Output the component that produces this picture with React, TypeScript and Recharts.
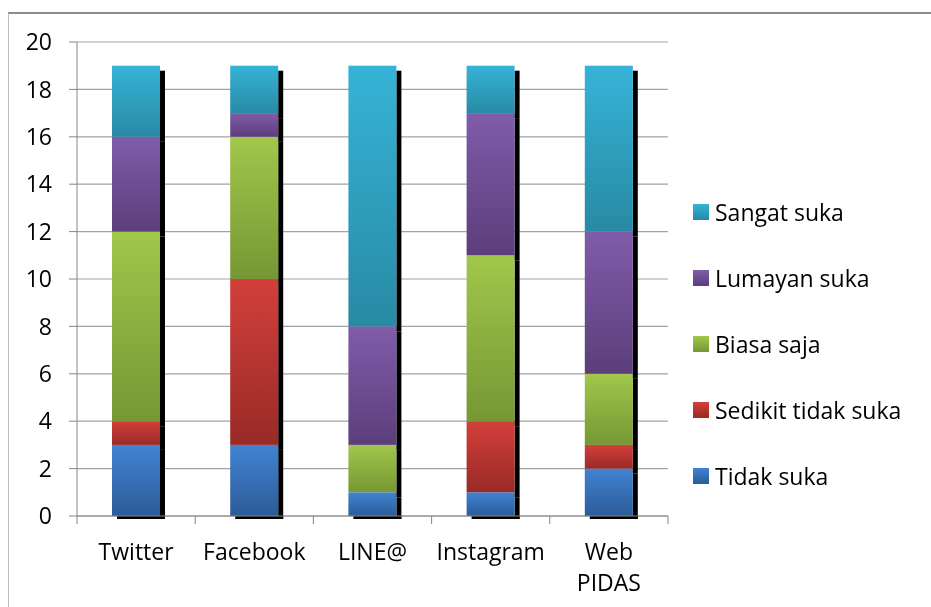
import React from 'react';
import { BarChart, Bar, XAxis, YAxis, CartesianGrid, Legend } from 'recharts';

const categories = ['Twitter', 'Facebook', 'LINE@', 'Instagram', 'Web PIDAS'];
const tidakSuka = [3, 3, 1, 1, 2];
const sedikitTidakSuka = [1, 7, 0, 3, 1];
const biasaSaja = [8, 6, 2, 7, 3];
const lumayanSuka = [4, 1, 5, 6, 6];
const sangatSuka = [3, 2, 11, 2, 7];
const yTicks = [0, 2, 4, 6, 8, 10, 12, 14, 16, 18, 20];

const seriesNames = ['Tidak suka', 'Sedikit tidak suka', 'Biasa saja', 'Lumayan suka', 'Sangat suka'];
const seriesValues = [tidakSuka, sedikitTidakSuka, biasaSaja, lumayanSuka, sangatSuka];
const seriesKeys = ['s0', 's1', 's2', 's3', 's4'];
// top / bottom colours of each gradient
const seriesColors = [
  ['#4183d3', '#2c5b98'],
  ['#d33f3b', '#992a27'],
  ['#a1c74b', '#769734'],
  ['#805caa', '#5c3e7b'],
  ['#36b3d7', '#288aa4'],
];

const data = categories.map((name, i) => {
  const row: any = { name };
  seriesKeys.forEach((k, s) => (row[k] = seriesValues[s][i]));
  return row;
});

const CHART_W = 923;
const CHART_H = 591;
const Y_W = 69;
const MARGIN = { top: 34, right: 263, bottom: 23, left: 0 };
const BAND = (CHART_W - Y_W - MARGIN.right - MARGIN.left) / categories.length;
const FONT = '"Open Sans", Lato, sans-serif';
const FS = 23;

function Segment(props: any) {
  const { x, y, width, height, fill, isBottom } = props;
  if (!height || height <= 0) return null;
  return (
    <g>
      <rect x={x + width} y={y + 5} width={5} height={isBottom ? height - 2 : height} fill="#000" />
      {isBottom && <rect x={x + 5} y={y + height} width={width} height={3} fill="#000" />}
      <rect x={x} y={y} width={width} height={height} fill={fill} />
    </g>
  );
}

function XTick(props: any) {
  const { x, y, payload, index } = props;
  const lines = String(payload.value).split(' ');
  return (
    <g>
      <line x1={x - BAND / 2} x2={x - BAND / 2} y1={y} y2={y + 8} stroke="#868686" />
      {index === categories.length - 1 && (
        <line x1={x + BAND / 2} x2={x + BAND / 2} y1={y} y2={y + 8} stroke="#868686" />
      )}
      {lines.map((l, i) => (
        <text key={i} x={x} y={y + 35 + i * 31} textAnchor="middle" dominantBaseline="central"
          fontSize={FS} fontFamily={FONT} fill="#000">
          {l}
        </text>
      ))}
    </g>
  );
}

function LegendContent() {
  const items = seriesNames.map((n, i) => ({ n, i })).reverse();
  return (
    <div style={{ fontFamily: FONT, fontSize: FS, color: '#000' }}>
      {items.map(({ n, i }) => (
        <div key={n} style={{ height: 66, display: 'flex', alignItems: 'center' }}>
          <span style={{
            width: 16, height: 16, display: 'inline-block', marginRight: 6, flex: 'none',
            background: `linear-gradient(${seriesColors[i][0]}, ${seriesColors[i][1]})`,
          }} />
          <span style={{ whiteSpace: 'nowrap' }}>{n}</span>
        </div>
      ))}
    </div>
  );
}

export default function App() {
  return (
    <div style={{ position: 'relative', width: CHART_W, height: CHART_H }}>
      <div style={{
        position: 'fixed', left: 8, top: 12, right: 0, bottom: 0,
        borderTop: '2px solid #8c8c8c', borderLeft: '1px solid #bdbdbd',
      }} />
      <BarChart width={CHART_W} height={CHART_H} data={data} margin={MARGIN} barSize={48}
        style={{ position: 'absolute', left: 0, top: 0 }}>
        <defs>
          {seriesColors.map((c, i) => (
            <linearGradient key={i} id={`grad${i}`} x1="0" y1="0" x2="0" y2="1">
              <stop offset="0%" stopColor={c[0]} />
              <stop offset="100%" stopColor={c[1]} />
            </linearGradient>
          ))}
        </defs>
        <CartesianGrid vertical={false} stroke="#a3a3a3" strokeWidth={1.2} />
        <XAxis dataKey="name" tickLine={false} tickSize={0} tickMargin={0} height={60}
          axisLine={{ stroke: '#868686' }} tick={<XTick />} interval={0} />
        <YAxis domain={[0, 20]} ticks={yTicks} width={Y_W} tickSize={8} tickMargin={17}
          axisLine={{ stroke: '#868686' }} tickLine={{ stroke: '#868686' }}
          tick={{ fontSize: FS, fontFamily: FONT, fill: '#000' }} interval={0} />
        <Legend layout="vertical" align="center" verticalAlign="middle"
          wrapperStyle={{ left: 685, top: 171, width: 235 }} content={<LegendContent />} />
        {seriesKeys.map((k, i) => (
          <Bar key={k} dataKey={k} name={seriesNames[i]} stackId="a" fill={`url(#grad${i})`}
            isAnimationActive={false}
            shape={(p: any) => <Segment {...p} isBottom={i === 0} />} />
        ))}
      </BarChart>
    </div>
  );
}
